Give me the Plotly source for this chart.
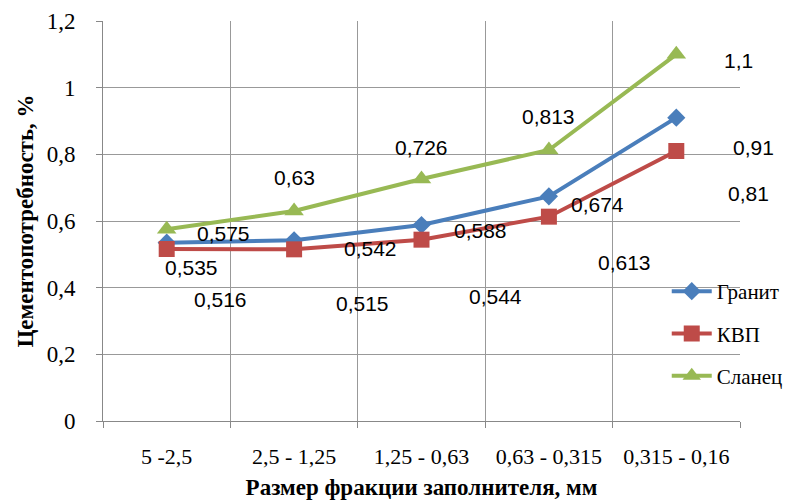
import plotly.graph_objects as go

categories = ["5 -2,5", "2,5 - 1,25", "1,25 - 0,63", "0,63 - 0,315", "0,315 - 0,16"]
granit = [0.535, 0.542, 0.588, 0.674, 0.91]
kvp = [0.516, 0.515, 0.544, 0.613, 0.81]
slanets = [0.575, 0.63, 0.726, 0.813, 1.1]
y_ticks = [0, 0.2, 0.4, 0.6, 0.8, 1.0, 1.2]

series = [
    ("Гранит", granit, "#4A7EBB", "diamond", 14),
    ("КВП", kvp, "#BE4B48", "square", 16),
    ("Сланец", slanets, "#98B954", "triangle-up", 17),
]

# label pixel offsets (dx right, dy down) relative to each point
label_offsets = {
    "Гранит": [(25, 25), (76, 8), (59, 5), (49, 8), (77, 30)],
    "КВП": [(54, 50), (68, 54), (74, 57), (76, 46), (72, 42)],
    "Сланец": [(57, 4), (0, -34), (0, -32), (0, -34), (62, 6)],
}

SERIF = "Times New Roman, Liberation Serif, serif"

fig = go.Figure()
for i, (name, vals, color, sym, size) in enumerate(series):
    fig.add_trace(go.Scatter(
        x=categories, y=vals, name=name, mode="lines+markers",
        legendgroup=name,
        line=dict(color=color, width=4),
        marker=dict(symbol=sym, size=size, color=color),
    ))

for name, vals, color, sym, size in series:
    for cat, v, (dx, dy) in zip(categories, vals, label_offsets[name]):
        fig.add_annotation(
            x=cat, y=v, xref="x", yref="y",
            text=f"{v}".replace(".", ","), showarrow=False,
            xshift=dx, yshift=-dy,
            font=dict(family="Liberation Sans, Arial, sans-serif", size=21, color="black"),
        )

fig.update_layout(
    width=787, height=493,
    margin=dict(l=95, r=55, t=13, b=80, autoexpand=False),
    paper_bgcolor="white", plot_bgcolor="white",
    separators=", ",
    showlegend=True,
    legend=dict(
        x=0.885, y=0.375, xanchor="left", yanchor="top",
        bgcolor="rgba(0,0,0,0)", tracegroupgap=12,
        font=dict(family=SERIF, size=21, color="black"),
        itemwidth=40,
    ),
    xaxis=dict(
        type="category", range=[-0.5, 4.5],
        tickson="boundaries", ticks="outside", ticklen=6, tickcolor="#888888",
        ticklabelstandoff=16,
        showgrid=True, gridcolor="#999999", gridwidth=1,
        showline=True, linecolor="#888888", linewidth=1,
        tickfont=dict(family=SERIF, size=22, color="black"),
        title=dict(text="<b>Размер фракции заполнителя, мм</b>", standoff=10,
                   font=dict(family=SERIF, size=23, color="black")),
    ),
    yaxis=dict(
        range=[0, 1.2], tickvals=y_ticks,
        ticks="outside", ticklen=6, tickcolor="#888888",
        ticklabelstandoff=16,
        showgrid=True, gridcolor="#999999", gridwidth=1,
        showline=True, linecolor="#888888", linewidth=1,
        zeroline=False,
        tickfont=dict(family=SERIF, size=23, color="black"),
        title=dict(text="<b>Цементопотребность, %</b>", standoff=6,
                   font=dict(family=SERIF, size=23, color="black")),
    ),
)

fig.write_html("out.html")
